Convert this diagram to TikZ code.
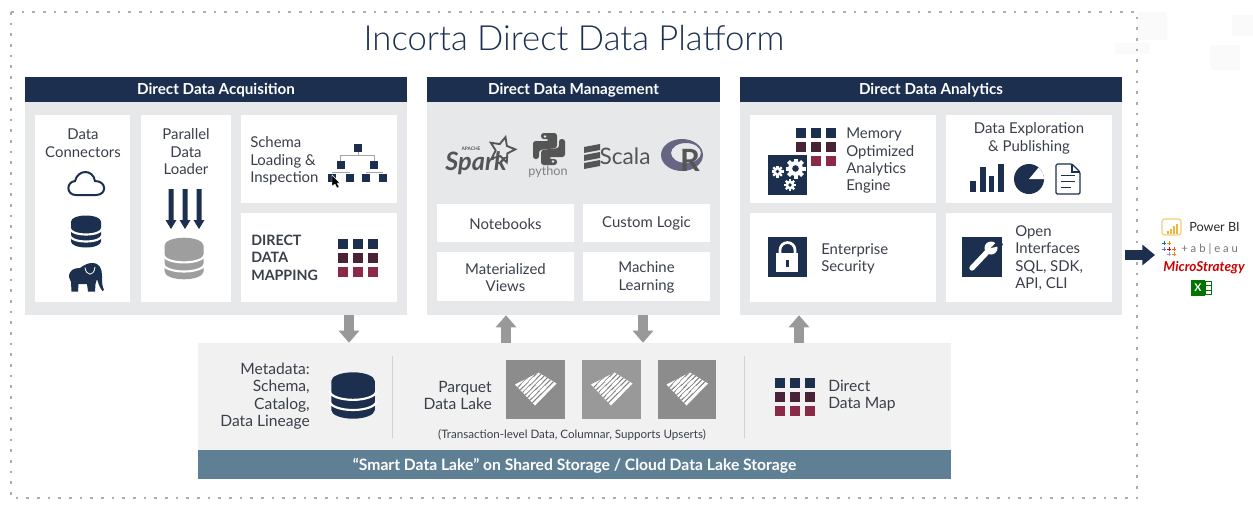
\documentclass[tikz,border=0pt]{standalone}
\usepackage{fontspec}
\setmainfont{Lato}
\newfontfamily\titlefont{Lato Light}
\usetikzlibrary{arrows.meta,fit,shapes.geometric}
\definecolor{navy}{HTML}{1C2F4F}
\definecolor{maroon}{HTML}{4A2238}
\definecolor{crimson}{HTML}{8A2A48}
\definecolor{panelgrey}{HTML}{E6E8EA}
\definecolor{lakegrey}{HTML}{F1F1F1}
\definecolor{slate}{HTML}{5F7F95}
\definecolor{inkgrey}{HTML}{3A3F4A}
\definecolor{logogrey}{HTML}{555555}
\definecolor{biyellow}{HTML}{EDB73C}
\tikzset{
  panelbox/.style={fill=panelgrey,inner sep=0pt,fit={#1}},
  headbox/.style={fill=navy,inner sep=0pt,fit={#1}},
  cardbox/.style={fill=white,inner sep=0pt,fit={#1}},
  tilebox/.style={inner sep=0pt,fit={#1}},
  headtext/.style={text=white,font=\bfseries\fontsize{11.4}{13}\selectfont,yshift=-0.5pt},
  cardtext/.style={text=inkgrey,font=\fontsize{11.2}{13.1}\selectfont,inner sep=0pt,yshift=-0.6pt},
  laketext/.style={text=inkgrey,font=\fontsize{11.7}{13.1}\selectfont,inner sep=0pt,yshift=-0.8pt},
  blockarrow/.style={draw=gray!80,line width=7.5pt,-{Triangle[length=9pt,width=15pt]}},
  dotborder/.style={draw=black!32,line width=2pt,dash pattern=on 2pt off 6pt},
}
% nine small squares, three colours
\newcommand\gridicon[2]{
  \foreach \row/\col in {-14/navy,0/maroon,14/crimson}
    \foreach \dx in {-15,0,15}
      \fill[\col] (#1+\dx-5,#2+\row-5) rectangle ++(10,10);
}
\newcommand\dbicon[4]{
  \begin{scope}[shift={(#1,#2)},scale=#3]
    \fill[#4] (-15,-10) arc (180:360:15 and 6) -- (15,10) arc (0:180:15 and 6) -- cycle;
    \draw[white,line width=1.6pt] (-16,-3) arc (180:0:16 and 6);
    \draw[white,line width=1.6pt] (-16,4) arc (180:0:16 and 6);
  \end{scope}
}
\newcommand\gearicon[3]{
  \foreach \a in {0,45,...,315}
    \fill[white,shift={(#1,#2)},rotate=\a] (-#3*0.2,-#3) rectangle (#3*0.2,0);
  \fill[white] (#1,#2) circle (#3*0.74);
  \fill[navy] (#1,#2) circle (#3*0.33);
}
\newcommand\parquetlogo[2]{
  \begin{scope}[shift={(#1,#2)}]
    \fill[white] (-20.5,-5) -- (3,-17) -- (21,-6) -- (-0.5,16) -- cycle;
    \clip (-20.5,-5) -- (3,-17) -- (21,-6) -- (-0.5,16) -- cycle;
    \foreach \c in {10,5,0,-5,-10,-15,-20}
      \draw[gray,line width=0.8pt] (\c+30,-30) -- (\c-30,30);
    \foreach \c/\d in {7.5/4,2.5/-3,-2.5/5,-7.5/-4,-12.5/3,-17.5/-2}
      \draw[white,line width=2.2pt] (\c/2+\d+2.5,\c/2-\d-2.5) -- (\c/2+\d-2.5,\c/2-\d+2.5);
  \end{scope}
}
\begin{document}
\begin{tikzpicture}[x=0.75pt,y=-0.75pt]
  \useasboundingbox (0,0) rectangle (1253,508);
  \fill[black!2] (1137,12) rectangle (1167,40);
  \fill[black!2] (1232,15) rectangle (1253,36);
  \fill[black!2] (1115,43) rectangle (1150,54);
  \fill[black!2] (1210,45) rectangle (1240,70);
  \draw[dotborder] (11,12) rectangle (1137,498);
  \node[text=navy,font=\titlefont\fontsize{26}{30}\selectfont] (Title) at (574,38) {Incorta Direct Data Platform};

  \node[panelbox={(25,77) (407,315)}] (AcqPanel) {};
  \node[panelbox={(427,77) (720,315)}] (MgmtPanel) {};
  \node[panelbox={(740,77) (1122,315)}] (AnaPanel) {};
  \node[headbox={(25,77) (407,102)}] (AcqHead) {};
  \node[headbox={(427,77) (720,102)}] (MgmtHead) {};
  \node[headbox={(740,77) (1122,102)}] (AnaHead) {};
  \node[headtext] (AcqTitle) at (AcqHead) {Direct Data Acquisition};
  \node[headtext] (MgmtTitle) at (MgmtHead) {Direct Data Management};
  \node[headtext] (AnaTitle) at (AnaHead) {Direct Data Analytics};

  \node[cardbox={(35,115) (130,302)}] (Connectors) {};
  \node[cardbox={(141,115) (231,302)}] (Loader) {};
  \node[cardbox={(241,115) (397,203)}] (Schema) {};
  \node[cardbox={(241,213) (397,302)}] (Mapping) {};
  \node[cardbox={(437,204) (574,242)}] (Notebooks) {};
  \node[cardbox={(583,204) (710,242)}] (Custom) {};
  \node[cardbox={(437,252) (574,301)}] (Views) {};
  \node[cardbox={(583,252) (710,301)}] (Learning) {};
  \node[cardbox={(750,115) (936,203)}] (Engine) {};
  \node[cardbox={(946,115) (1112,203)}] (Exploration) {};
  \node[cardbox={(750,213) (936,302)}] (Security) {};
  \node[cardbox={(946,213) (1112,302)}] (Interfaces) {};

  \begin{scope}[every node/.style={cardtext,align=center}]
    \node (ConnectorsText) at (83,142.5) {Data\\Connectors};
    \node (LoaderText) at (186,151) {Parallel\\Data\\Loader};
    \node (NotebooksText) at (Notebooks) {Notebooks};
    \node (CustomText) at (Custom) {Custom Logic};
    \node (ViewsText) at (Views) {Materialized\\Views};
    \node (LearningText) at (Learning) {Machine\\Learning};
    \node (ExplorationText) at (1029,137.5) {Data Exploration\\\& Publishing};
  \end{scope}
  \begin{scope}[every node/.style={cardtext,align=left,anchor=west}]
    \node (SchemaText) at (250,160) {Schema\\Loading \&\\Inspection};
    \node[font=\bfseries\fontsize{10.7}{13.1}\selectfont] (MappingText) at (251,257) {DIRECT\\DATA\\MAPPING};
    \node (EngineText) at (846,160) {Memory\\Optimized\\Analytics\\Engine};
    \node (SecurityText) at (821,258) {Enterprise\\Security};
    \node (InterfacesText) at (1015,257.5) {Open\\Interfaces\\SQL, SDK,\\API, CLI};
  \end{scope}

  % acquisition icons
  \draw[navy,line width=1.5pt] (76,195) .. controls (66,195) and (66,182) .. (75,181) .. controls (78,169) and (93,169) .. (95,181) .. controls (107,181) and (107,195) .. (96,195) -- cycle;
  \dbicon{86}{231.5}{1}{navy}
  \fill[navy] (69,277) .. controls (69,270) and (74,268) .. (80,268) .. controls (84,265) and (88,263) .. (92,263) .. controls (100,263) and (102,269) .. (102,276) .. controls (102,281) and (102,286) .. (104,290) -- (102.5,291) .. controls (99,287) and (98,282) .. (97,279) -- (95.5,284) -- (95,291.5) -- (88,291.5) -- (87,284) -- (78.5,284) -- (78,291.5) -- (71.5,291.5) -- (71,282) -- cycle;
  \draw[white,line width=0.6pt] (85,267.5) .. controls (86,276) and (94,277) .. (95,267);
  \foreach \x in {171,185,199}
    \fill[navy] (\x-2.5,189) -- (\x+2.5,189) -- (\x+2.5,220) -- (\x+5.5,220) -- (\x,229) -- (\x-5.5,220) -- (\x-2.5,220) -- cycle;
  \dbicon{184}{258.5}{1.3}{black!38}
  \draw[black!35,line width=0.4pt] (358,148) -- (358,155) (340.5,155) -- (374,155) (340.5,155) -- (340.5,165) (374,155) -- (374,165) (332,172) -- (349.5,172) (366,172) -- (383,172);
  \foreach \x/\y in {358/148,340.5/165,374/165,332/178,349.5/178,366/178,383/178}
    \fill[navy] (\x-4,\y-4) rectangle ++(8,8);
  \fill[black,draw=white,line width=0.3pt] (332,175) -- (332,186) -- (335,184) -- (337,188) -- (339,187) -- (337,183) -- (340,183) -- cycle;
  \gridicon{357.5}{258}

  % language logos
  \node[star,star points=5,star point ratio=2.1,draw=logogrey,line width=1.4pt,minimum size=20pt,inner sep=0pt,rotate=-15] (SparkStar) at (502,150) {};
  \node[text=logogrey,font=\itshape\bfseries\fontsize{19}{19}\selectfont,inner sep=0pt,anchor=base] (SparkText) at (476,170) {Spark};
  \node[text=logogrey,font=\bfseries\fontsize{3.6}{4}\selectfont,inner sep=0pt] (ApacheText) at (471,149) {APACHE};
  \foreach \f/\m in {1/0,-1/1098}
    \fill[logogrey,rounded corners=2pt] (\m+\f*541,{149+\f*(133-149)}) -- (\m+\f*557,{149+\f*(133-149)}) -- (\m+\f*557,{149+\f*(148-149)}) -- (\m+\f*539,{149+\f*(150-149)}) -- (\m+\f*539,{149+\f*(159-149)}) -- (\m+\f*533,{149+\f*(159-149)}) -- (\m+\f*533,{149+\f*(141-149)}) -- (\m+\f*549,{149+\f*(141-149)}) -- (\m+\f*549,{149+\f*(139-149)}) -- (\m+\f*541,{149+\f*(139-149)}) -- cycle;
  \fill[panelgrey] (545,136.5) circle (1.4) (553,161.5) circle (1.4);
  \node[text=gray,font=\fontsize{9.5}{10}\selectfont,inner sep=0pt] (PythonText) at (548,172) {python};
  \foreach \y in {144,152,160}
    \fill[logogrey] (584,\y+3) -- (600,\y) -- (600,\y+6) -- (584,\y+9) -- cycle;
  \node[text=logogrey,font=\fontsize{17}{17}\selectfont,inner sep=0pt] (ScalaText) at (625,156) {Scala};
  \fill[black!45!blue!20!gray,even odd rule] (682,155) ellipse (21 and 16) (686,153) ellipse (15 and 10);
  \node[text=logogrey,font=\bfseries\fontsize{23}{24}\selectfont,inner sep=0pt] (RText) at (690,160) {R};

  % analytics icons
  \gridicon{816}{147}
  \fill[navy] (768,155) rectangle (807,195);
  \gearicon{777.5}{171.5}{6}
  \gearicon{795.5}{168.5}{10}
  \gearicon{790}{185}{6}
  \foreach \x/\w/\t in {970/6/181,979.5/6/167,989/5/176,997.5/6/164}
    \fill[navy] (\x,\t) rectangle (\x+\w,192);
  \fill[navy] (1029,179) circle (15);
  \fill[white] (1029,179) -- (1044,179) arc (0:-50:15) -- cycle;
  \draw[navy,line width=0.9pt,rounded corners=1pt] (1056,164) -- (1072,164) -- (1080,172) -- (1080,194) -- (1056,194) -- cycle;
  \draw[navy,line width=0.9pt] (1072,164) -- (1072,172) -- (1080,172);
  \draw[navy,line width=0.7pt] (1061,175) -- (1075,175) (1061,181) -- (1075,181) (1061,187) -- (1071,187);
  \fill[navy] (768,237) rectangle (807,277);
  \draw[white,line width=2pt] (780,254) -- (780,250) arc (180:360:7.5) -- (795,254);
  \fill[white] (776,253) rectangle (798,272);
  \fill[navy] (785.5,260) rectangle (789,267);
  \fill[navy] (962,237) rectangle (1002,277);
  \draw[white,line width=4pt,line cap=round] (972,268) -- (989,250);
  \fill[white] (991,248) circle (6.5);
  \fill[navy] (991,248) -- (1000,238) -- (1003,245) -- cycle;

  % storage
  \node[tilebox={(198,343) (951,450)},fill=lakegrey] (LakePanel) {};
  \node[tilebox={(198,450) (951,479)},fill=slate] (LakeBar) {};
  \node[text=white,font=\bfseries\fontsize{11.75}{13}\selectfont,yshift=-0.8pt] (LakeTitle) at (LakeBar) {“Smart Data Lake” on Shared Storage / Cloud Data Lake Storage};
  \draw[black!18,line width=0.5pt] (392,356) -- (392,438) (744,356) -- (744,438);
  \node[laketext,align=right,anchor=east] (MetadataText) at (310,395) {Metadata:\\Schema,\\Catalog,\\Data Lineage};
  \dbicon{353}{395.5}{1.45}{navy}
  \node[laketext,align=right,anchor=east] (ParquetText) at (492,394.5) {Parquet\\Data Lake};
  \node[tilebox={(506,360) (565,419)},fill=black!45] (TileA) {};
  \node[tilebox={(582,360) (641,419)},fill=black!40] (TileB) {};
  \node[tilebox={(658,360) (716,419)},fill=black!45] (TileC) {};
  \parquetlogo{535.5}{389.5}
  \parquetlogo{611.5}{389.5}
  \parquetlogo{687}{389.5}
  \node[laketext,font=\fontsize{8.7}{10}\selectfont] (CaptionText) at (572,434) {(Transaction-level Data, Columnar, Supports Upserts)};
  \gridicon{795}{396.5}
  \node[laketext,align=left,anchor=west] (MapText) at (828,394.5) {Direct\\Data Map};

  \coordinate (ArrowA) at (349,330);
  \coordinate (ArrowB) at (506,330);
  \coordinate (ArrowC) at (643,330);
  \coordinate (ArrowD) at (799,330);
  \draw[blockarrow] (AcqPanel.south -| ArrowA) -- (LakePanel.north -| ArrowA);
  \draw[blockarrow] (LakePanel.north -| ArrowB) -- (MgmtPanel.south -| ArrowB);
  \draw[blockarrow] (MgmtPanel.south -| ArrowC) -- (LakePanel.north -| ArrowC);
  \draw[blockarrow] (LakePanel.north -| ArrowD) -- (AnaPanel.south -| ArrowD);

  % tools on the right
  \coordinate (ToolsIn) at (1155,255);
  \draw[navy,line width=7.5pt,-{Triangle[length=9.5pt,width=15pt]}] (AnaPanel.east |- ToolsIn) ++(3,0) -- (ToolsIn);
  \draw[biyellow!70,line width=0.9pt,rounded corners=2pt] (1162,219) rectangle (1181,235);
  \foreach \x/\t in {1167/231,1170/229,1173/226,1176/224}
    \fill[biyellow] (\x,\t) rectangle (\x+1.8,234);
  \node[text=black!85,font=\fontsize{9.5}{10}\selectfont,inner sep=0pt,anchor=west] (PowerText) at (1189,226.5) {Power BI};
  \foreach \x/\y/\c in {1169/243/orange,1164/249/blue!60,1174/249/red!70,1169/254/blue!40,1169/249/red!80!black,1164/243/teal,1174/254/orange}
    \draw[\c,line width=0.7pt] (\x-2,\y) -- (\x+2,\y) (\x,\y-2) -- (\x,\y+2);
  \node[text=black!55,font=\fontsize{8.5}{10}\selectfont,inner sep=0pt,anchor=west] (TableauText) at (1181,249) {+ a b | e a u};
  \node[text=red!80!black,font=\bfseries\itshape\fontsize{10.2}{10}\selectfont,inner sep=0pt] (StrategyText) at (1204,267.5) {MicroStrategy};
  \fill[green!45!black] (1191,279.5) rectangle (1205,296);
  \draw[green!45!black,line width=0.5pt] (1205,281) rectangle (1211,294.5) (1205,285.5) -- (1211,285.5) (1205,290) -- (1211,290);
  \node[text=white,font=\bfseries\fontsize{8}{8}\selectfont,inner sep=0pt] (ExcelText) at (1198,288) {X};
\end{tikzpicture}
\end{document}
